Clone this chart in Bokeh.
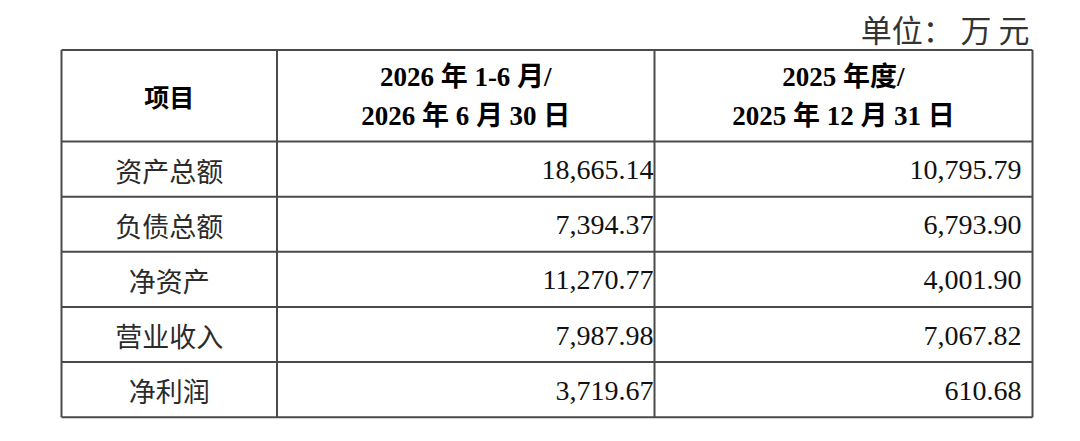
from bokeh.plotting import figure
from bokeh.models import Range1d, ColumnDataSource
from bokeh.core.properties import value
from bokeh.embed import file_html
from bokeh.resources import INLINE

# ---- data ----
items = ["资产总额", "负债总额", "净资产", "营业收入", "净利润"]
v_2026h1 = [18665.14, 7394.37, 11270.77, 7987.98, 3719.67]
v_2025 = [10795.79, 6793.90, 4001.90, 7067.82, 610.68]
header_item = "项目"
header_line1 = ["2026 年 1-6 月/", "2025 年度/"]
header_line2 = ["2026 年 6 月 30 日", "2025 年 12 月 31 日"]
unit_label = "单位：  万 元"

# ---- layout (page pixels) ----
W, H = 1064, 425
col_edges = [61, 276.5, 654, 1032]
header_top, header_bottom = 49.5, 141.0
row_h = 55.15
row_edges = [header_top, header_bottom] + [header_bottom + row_h * (i + 1) for i in range(len(items))]

p = figure(width=W, height=H, output_backend="svg", toolbar_location=None,
           x_range=Range1d(0, W), y_range=Range1d(H, 0),
           min_border=0, outline_line_color=None)
p.axis.visible = False
p.grid.visible = False
p.background_fill_color = "white"
p.border_fill_color = "white"

line_color = "#4a4a4a"
# horizontal rules
p.segment(x0=[col_edges[0]] * len(row_edges), x1=[col_edges[-1]] * len(row_edges),
          y0=row_edges, y1=row_edges, line_color=line_color, line_width=2)
# vertical rules
p.segment(x0=col_edges, x1=col_edges, y0=[row_edges[0]] * len(col_edges),
          y1=[row_edges[-1]] * len(col_edges), line_color=line_color, line_width=2)

mixed_font = value("'Liberation Serif', 'Noto Sans CJK SC', serif")
cjk_font = value("Noto Sans CJK SC")

# header
c1 = (col_edges[0] + col_edges[1]) / 2
c2 = (col_edges[1] + col_edges[2]) / 2
c3 = (col_edges[2] + col_edges[3]) / 2
hmid = (header_top + header_bottom) / 2
p.text(x=[c1], y=[hmid], text=[header_item], text_font=cjk_font, text_font_style="bold",
       text_font_size="25px", text_align="center", text_baseline="middle", text_color="#000000")
p.text(x=[c2, c3], y=[hmid - 18.5, hmid - 18.5], text=header_line1, text_font=mixed_font,
       text_font_style="bold", text_font_size="27px", text_align="center",
       text_baseline="middle", text_color="#000000")
p.text(x=[c2, c3], y=[hmid + 20, hmid + 20], text=header_line2, text_font=mixed_font,
       text_font_style="bold", text_font_size="27px", text_align="center",
       text_baseline="middle", text_color="#000000")

# body rows
row_mid = [(row_edges[i + 1] + row_edges[i + 2]) / 2 + 1 for i in range(len(items))]
src = ColumnDataSource(dict(
    y=row_mid,
    item=items,
    a=[f"{v:,.2f}" for v in v_2026h1],
    b=[f"{v:,.2f}" for v in v_2025],
))
p.text(x=c1, y="y", text="item", source=src, text_font=cjk_font, text_font_size="27px",
       text_align="center", text_baseline="middle", text_color="#2b2b2b")
p.text(x=col_edges[2] - 1, y="y", text="a", source=src, text_font=value("Liberation Serif"),
       text_font_size="28px", text_align="right", text_baseline="middle", text_color="#111111")
p.text(x=col_edges[3] - 11, y="y", text="b", source=src, text_font=value("Liberation Serif"),
       text_font_size="28px", text_align="right", text_baseline="middle", text_color="#111111")

# unit label
p.text(x=[col_edges[3] + 4], y=[28], text=[unit_label], text_font=cjk_font,
       text_font_size="31px", text_align="right", text_baseline="middle", text_color="#333333")

open("out.html", "w").write(file_html(p, INLINE))
